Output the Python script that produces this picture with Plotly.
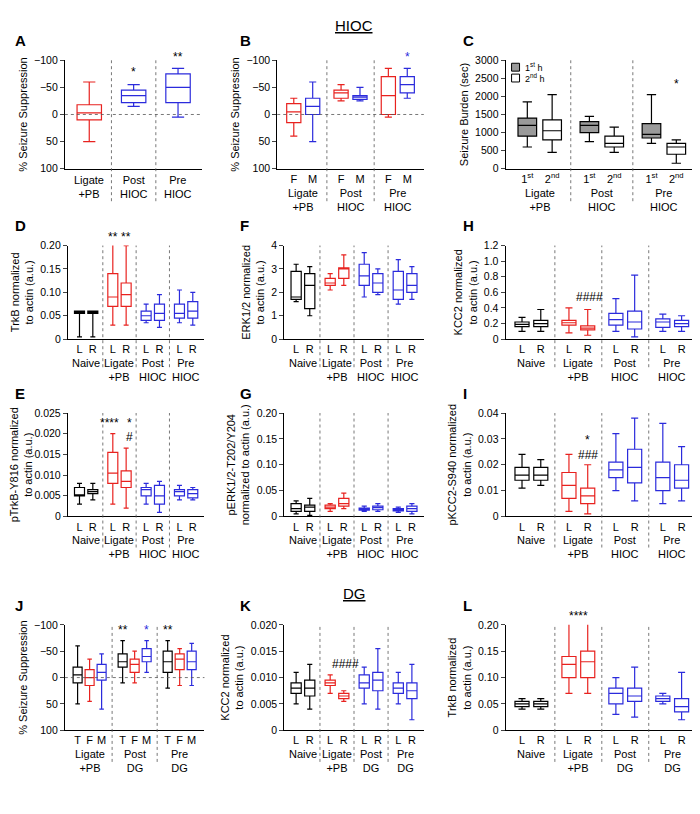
import plotly.graph_objects as go

W, H = 700, 814
RED, BLUE, BLK = "#e8221f", "#2b2bdc", "#000000"

# stats tuples: (low, q1, median, q3, high)  (order within tuple is sorted before drawing)
A_groups = ["Ligate<br>+PB", "Post<br>HIOC", "Pre<br>HIOC"]
A_sub = [[""], [""], [""]]
A_stats = [[(50, 10, -3, -18, -60)], [(-15, -22, -35, -45, -55)], [(5, -22, -50, -75, -85)]]
A_cols = [[RED], [BLUE], [BLUE]]

B_groups = ["Ligate<br>+PB", "Post<br>HIOC", "Pre<br>HIOC"]
B_sub = [["F", "M"], ["F", "M"], ["F", "M"]]
B_stats = [[(40, 15, -5, -20, -30), (50, 0, -15, -30, -60)],
           [(-25, -30, -40, -45, -55), (-25, -28, -32, -35, -50)],
           [(5, 0, -35, -70, -85), (-30, -40, -55, -70, -85)]]
B_cols = [[RED, BLUE], [RED, BLUE], [RED, BLUE]]

C_groups = ["Ligate<br>+PB", "Post<br>HIOC", "Pre<br>HIOC"]
C_sub = [["1<sup>st</sup>", "2<sup>nd</sup>"]] * 3
C_stats = [[(600, 900, 1200, 1400, 1850), (450, 800, 1050, 1350, 2050)],
           [(750, 1000, 1200, 1300, 1450), (450, 600, 700, 900, 1150)],
           [(700, 850, 950, 1250, 2050), (150, 400, 600, 700, 800)]]
C_cols = [[BLK, BLK]] * 3
C_fill = [["#9a9a9a", "white"]] * 3

LR = ["L", "R"]
N4 = ["Naive", "Ligate<br>+PB", "Post<br>HIOC", "Pre<br>HIOC"]
D_stats = [[(0.005, 0.055, 0.057, 0.06, 0.06), (0.005, 0.055, 0.057, 0.06, 0.06)],
           [(0.03, 0.07, 0.09, 0.14, 0.21), (0.03, 0.07, 0.095, 0.12, 0.20)],
           [(0.035, 0.04, 0.05, 0.06, 0.075), (0.025, 0.04, 0.055, 0.075, 0.095)],
           [(0.035, 0.045, 0.055, 0.075, 0.105), (0.03, 0.045, 0.06, 0.08, 0.10)]]
E_stats = [[(0.003, 0.005, 0.005, 0.007, 0.008), (0.004, 0.0055, 0.006, 0.0065, 0.008)],
           [(0.003, 0.008, 0.0105, 0.0155, 0.020), (0.002, 0.007, 0.0085, 0.011, 0.0165)],
           [(0.003, 0.005, 0.0065, 0.007, 0.008), (0.001, 0.003, 0.005, 0.0075, 0.0085)],
           [(0.004, 0.005, 0.006, 0.0065, 0.0075), (0.004, 0.0045, 0.0055, 0.0065, 0.007)]]
F_stats = [[(1.6, 1.7, 1.8, 2.9, 3.2), (1.0, 1.3, 2.3, 2.8, 3.1)],
           [(2.1, 2.3, 2.4, 2.6, 2.8), (2.3, 2.6, 3.0, 3.05, 3.6)],
           [(1.8, 2.3, 2.7, 3.2, 3.7), (1.9, 2.0, 2.4, 2.8, 3.0)],
           [(1.5, 1.7, 2.1, 2.9, 3.4), (1.7, 2.0, 2.3, 2.8, 3.1)]]
G_stats = [[(0.005, 0.01, 0.015, 0.025, 0.03), (0.002, 0.01, 0.018, 0.022, 0.035)],
           [(0.01, 0.015, 0.018, 0.022, 0.025), (0.015, 0.02, 0.025, 0.035, 0.045)],
           [(0.01, 0.012, 0.014, 0.016, 0.02), (0.01, 0.013, 0.017, 0.02, 0.025)],
           [(0.008, 0.011, 0.013, 0.015, 0.018), (0.005, 0.01, 0.015, 0.02, 0.025)]]
H_stats = [[(0.1, 0.16, 0.19, 0.22, 0.28), (0.1, 0.16, 0.2, 0.24, 0.38)],
           [(0.08, 0.18, 0.21, 0.24, 0.40), (0.05, 0.12, 0.14, 0.17, 0.38)],
           [(0.1, 0.18, 0.25, 0.33, 0.52), (0.03, 0.13, 0.22, 0.36, 0.82)],
           [(0.1, 0.15, 0.22, 0.26, 0.32), (0.1, 0.16, 0.2, 0.24, 0.3)]]
I_stats = [[(0.011, 0.014, 0.016, 0.019, 0.024), (0.012, 0.014, 0.016, 0.019, 0.022)],
           [(0.002, 0.007, 0.012, 0.017, 0.024), (0.001, 0.005, 0.008, 0.011, 0.020)],
           [(0.01, 0.015, 0.018, 0.021, 0.032), (0.006, 0.013, 0.019, 0.026, 0.038)],
           [(0.005, 0.01, 0.015, 0.021, 0.036), (0.006, 0.011, 0.014, 0.02, 0.027)]]
J_groups = ["Ligate<br>+PB", "Post<br>DG", "Pre<br>DG"]
J_sub = [["T", "F", "M"]] * 3
J_stats = [[(50, 10, -5, -20, -60), (45, 15, 0, -15, -35), (60, 5, -10, -25, -45)],
           [(10, -20, -30, -45, -70), (10, -10, -25, -35, -50), (-10, -30, -40, -55, -70)],
           [(20, -10, -30, -50, -70), (15, -15, -35, -45, -55), (15, -15, -30, -50, -65)]]
J_cols = [[BLK, RED, BLUE]] * 3
N4DG = ["Naive", "Ligate<br>+PB", "Post<br>DG", "Pre<br>DG"]
K_stats = [[(0.005, 0.007, 0.008, 0.009, 0.011), (0.004, 0.0065, 0.008, 0.0095, 0.0125)],
           [(0.007, 0.0085, 0.009, 0.0095, 0.0105), (0.0055, 0.006, 0.0065, 0.007, 0.0075)],
           [(0.005, 0.008, 0.009, 0.0105, 0.012), (0.004, 0.0075, 0.0095, 0.011, 0.0155)],
           [(0.005, 0.007, 0.008, 0.009, 0.011), (0.002, 0.006, 0.0075, 0.009, 0.0125)]]
L_stats = [[(0.04, 0.045, 0.05, 0.055, 0.06), (0.04, 0.045, 0.05, 0.055, 0.06)],
           [(0.07, 0.1, 0.125, 0.14, 0.21), (0.07, 0.1, 0.13, 0.15, 0.21)],
           [(0.03, 0.05, 0.07, 0.08, 0.1), (0.025, 0.055, 0.065, 0.08, 0.12)],
           [(0.05, 0.055, 0.06, 0.065, 0.07), (0.02, 0.035, 0.045, 0.06, 0.11)]]
C4 = [[BLK, BLK], [RED, RED], [BLUE, BLUE], [BLUE, BLUE]]

fig = go.Figure()
FONT = "Liberation Sans, Arial"

def px(x0, x1, y0, y1):
    return [x0 / W, x1 / W], [1 - y1 / H, 1 - y0 / H]

def panel(n, letter, lx, box, groups, subs, stats, cols, yrange, ticks, ytitle,
          rev=False, zero=False, fills=None, ticktext=None, stars=()):
    xd, yd = px(*box)
    xa, ya = ("xaxis" if n == 1 else f"xaxis{n}"), ("yaxis" if n == 1 else f"yaxis{n}")
    xr, yr = ("x" if n == 1 else f"x{n}"), ("y" if n == 1 else f"y{n}")
    tv, tt = [], []
    pos = {}
    for g, (sb, st, cl) in enumerate(zip(subs, stats, cols)):
        k = len(sb)
        for i in range(k):
            x = g + (i - (k - 1) / 2) * (0.8 / k if k > 1 else 0)
            pos[(g, i)] = x
            lo, q1, md, q3, hi = sorted(st[i])
            fc = fills[g][i] if fills else "rgba(0,0,0,0)"
            fig.add_trace(go.Box(x=[x], q1=[q1], median=[md], q3=[q3], lowerfence=[lo],
                                 upperfence=[hi], width=0.6 / max(k, 1.6) if k > 1 else 0.55,
                                 line=dict(color=cl[i], width=1.2), fillcolor=fc,
                                 whiskerwidth=0.5, xaxis=xr, yaxis=yr, showlegend=False,
                                 hoverinfo="skip"))
            tv.append(x); tt.append(sb[i])
    ng = len(groups)
    for g in range(ng - 1):
        fig.add_shape(type="line", xref=xr, yref=f"{yr} domain", x0=g + 0.5, x1=g + 0.5,
                      y0=-0.3, y1=1.0, line=dict(color="#555", width=0.8, dash="dot"))
    if zero:
        fig.add_shape(type="line", xref=f"{xr} domain", yref=yr, x0=0, x1=1, y0=0, y1=0,
                      line=dict(color="#555", width=0.8, dash="dot"))
    ax = dict(domain=xd, anchor=yr, range=[-0.55, ng - 0.45], tickvals=tv, ticktext=tt,
              showline=True, linecolor="black", linewidth=1, ticks="", showgrid=False,
              zeroline=False, tickfont=dict(size=11, family=FONT, color="black"))
    ay = dict(domain=yd, anchor=xr, range=yrange, tickvals=ticks, ticktext=ticktext,
              showline=True, linecolor="black", linewidth=1, ticks="outside", ticklen=4,
              showgrid=False, zeroline=False, tickfont=dict(size=10.5, family=FONT, color="black"),
              title=dict(text=ytitle, font=dict(size=11, family=FONT, color="black"), standoff=4))
    fig.layout[xa] = ax
    fig.layout[ya] = ay
    for g, lab in enumerate(groups):
        fig.add_annotation(xref=xr, yref=f"{yr} domain", x=g, y=0, yshift=-16 if subs[0][0] else -3,
                           yanchor="top", text=lab, showarrow=False,
                           font=dict(size=11, family=FONT, color="black"))
    for g, i, y, t, c, dx in stars:
        fig.add_annotation(xref=xr, yref=yr, x=pos[(g, i)], y=y, text=t, showarrow=False,
                           xshift=dx, yanchor="bottom", font=dict(size=12, family=FONT, color=c))
    fig.add_annotation(xref="paper", yref="paper", x=lx / W, y=1 - (box[2] - 20) / H,
                       text=f"<b>{letter}</b>", showarrow=False, xanchor="left", yanchor="middle",
                       font=dict(size=15, family=FONT, color="black"))

rv = [100, -100]
pct = [-100, -50, 0, 50, 100]
panel(1, "A", 3, (55, 193, 47, 157), A_groups, A_sub, A_stats, A_cols, rv, pct,
      "% Seizure Suppression", zero=True,
      stars=[(1, 0, -62, "*", BLK, 0), (2, 0, -90, "**", BLK, 0)])
panel(2, "B", 229, (268, 415, 47, 157), B_groups, B_sub, B_stats, B_cols, rv, pct,
      "% Seizure Suppression", zero=True, stars=[(2, 1, -90, "*", BLUE, 0)])
panel(3, "C", 452, (497, 690, 47, 157), C_groups, C_sub, C_stats, C_cols, [0, 3000],
      [0, 500, 1000, 1500, 2000, 2500, 3000], "Seizure Burden (sec)", fills=C_fill,
      stars=[(2, 1, 2100, "*", BLK, 0)])
t20 = [0, 0.05, 0.10, 0.15, 0.20]
panel(4, "D", 3, (58, 195, 235, 330), N4, [LR] * 4, D_stats, C4, [0, 0.2], t20,
      "TrkB normalized<br>to actin (a.u.)", ticktext=["0", "0.05", "0.10", "0.15", "0.20"],
      stars=[(1, 0, 0.199, "**", BLK, 0), (1, 1, 0.199, "**", BLK, 0)])
panel(5, "F", 229, (275, 415, 235, 330), N4, [LR] * 4, F_stats, C4, [0, 4], [0, 1, 2, 3, 4],
      "ERK1/2 normalized<br>to actin (a.u.)")
panel(6, "H", 452, (497, 690, 235, 330), N4, [LR] * 4, H_stats, C4, [0, 1.2],
      [0, 0.2, 0.4, 0.6, 0.8, 1.0, 1.2], "KCC2 normalized<br>to actin (a.u.)",
      ticktext=["0", "0.2", "0.4", "0.6", "0.8", "1.0", "1.2"],
      stars=[(1, 1, 0.42, "####", BLK, 2)])
panel(7, "E", 3, (58, 195, 405, 510), N4, [LR] * 4, E_stats, C4, [0, 0.025],
      [0, 0.005, 0.010, 0.015, 0.020, 0.025], "pTrkB-Y816 normalized<br>to actin (a.u.)",
      ticktext=["0", "0.005", "0.010", "0.015", "0.020", "0.025"],
      stars=[(1, 0, 0.0205, "****", BLK, -3), (1, 1, 0.0205, "*", BLK, 3),
             (1, 1, 0.017, "#", BLK, 3)])
panel(8, "G", 229, (275, 415, 405, 510), N4, [LR] * 4, G_stats, C4, [0, 0.2], t20,
      "pERK1/2-T202/Y204<br>normalized to actin (a.u.)",
      ticktext=["0", "0.05", "0.10", "0.15", "0.20"])
panel(9, "I", 452, (497, 690, 405, 510), N4, [LR] * 4, I_stats, C4, [0, 0.04],
      [0, 0.01, 0.02, 0.03, 0.04], "pKCC2-S940 normalized<br>to actin (a.u.)",
      stars=[(1, 1, 0.0262, "*", BLK, 0), (1, 1, 0.0203, "###", BLK, 0)])
panel(10, "J", 3, (55, 195, 620, 727), J_groups, J_sub, J_stats, J_cols, rv, pct,
      "% Seizure Suppression", zero=True,
      stars=[(1, 0, -73, "**", BLK, 0), (1, 2, -73, "*", BLUE, 0), (2, 0, -73, "**", BLK, 0)])
panel(11, "K", 229, (275, 415, 620, 727), N4DG, [LR] * 4, K_stats, C4, [0, 0.02],
      [0, 0.005, 0.010, 0.015, 0.020], "KCC2 normalized<br>to actin (a.u.)",
      ticktext=["0", "0.005", "0.010", "0.015", "0.020"],
      stars=[(1, 1, 0.0108, "####", BLK, 2)])
panel(12, "L", 452, (497, 690, 620, 727), N4DG, [LR] * 4, L_stats, C4, [0, 0.2], t20,
      "TrkB normalized<br>to actin (a.u.)", ticktext=["0", "0.05", "0.10", "0.15", "0.20"],
      stars=[(1, 0, 0.199, "****", BLK, 10)])

# section titles
fig.add_annotation(xref="paper", yref="paper", x=345 / W, y=1 - 12 / H, text="<u>HIOC</u>",
                   showarrow=False, yanchor="middle", font=dict(size=15, family=FONT, color="black"))
fig.add_annotation(xref="paper", yref="paper", x=345 / W, y=1 - 588 / H, text="<u>DG</u>",
                   showarrow=False, yanchor="middle", font=dict(size=15, family=FONT, color="black"))
# legend for C
for j, (fc, lab) in enumerate([("#9a9a9a", "1<sup>st</sup> h"), ("white", "2<sup>nd</sup> h")]):
    y = 50 + j * 11
    fig.add_shape(type="rect", xref="paper", yref="paper", x0=503 / W, x1=511 / W,
                  y0=1 - (y + 8) / H, y1=1 - y / H, fillcolor=fc, line=dict(color="black", width=1))
    fig.add_annotation(xref="paper", yref="paper", x=514 / W, y=1 - (y + 4) / H, text=lab,
                       showarrow=False, xanchor="left", yanchor="middle",
                       font=dict(size=9, family=FONT, color="black"))

fig.update_layout(width=W, height=H, margin=dict(l=0, r=0, t=0, b=0), plot_bgcolor="white",
                  paper_bgcolor="white", showlegend=False, boxmode="overlay")
fig.write_html("out.html")
